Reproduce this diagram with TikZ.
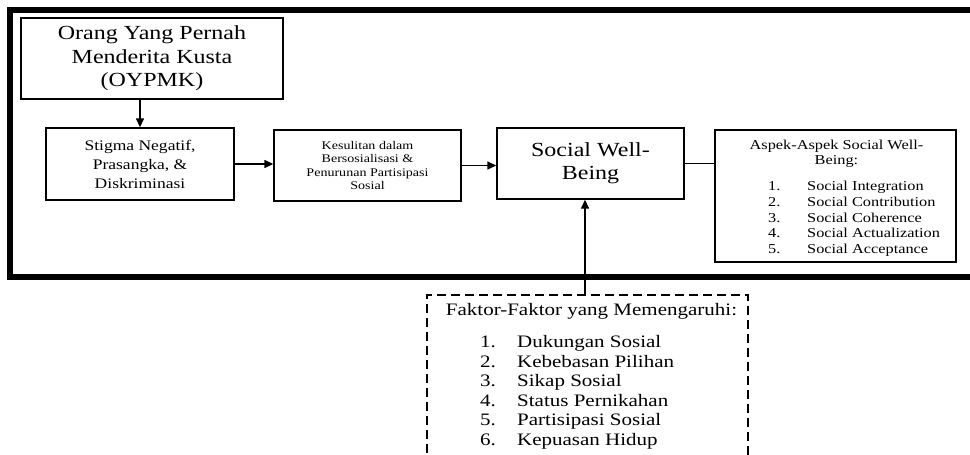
\documentclass[tikz,border=0pt]{standalone}
\usepackage{fontspec}
\setmainfont{Liberation Serif}[FakeStretch=1.2]
\usetikzlibrary{arrows.meta,positioning}

\begin{document}
\begin{tikzpicture}[x=1pt,y=-1pt]
        \tikzstyle{every node}+=[inner sep=0pt]
        \tikzstyle{box}=[draw=black, line width=1.4pt, align=center]
        \tikzstyle{link}=[draw=black, line width=1.4pt, -{Triangle[length=9pt,width=8pt]}]
        \tikzstyle{plain}=[draw=black, line width=1.4pt]
        \useasboundingbox (0,0) rectangle (970,455);
        \fill [white] (0,0) rectangle (970,455);
        % thick outer frame, runs off the right edge
        \draw [black, line width=5.5pt] (10,10) rectangle (995,277);
        \node [box, minimum width=262pt, minimum height=81pt, font=\fontsize{20}{23.5}\selectfont] (oypmk) at (152,58.5) {Orang Yang Pernah\\Menderita Kusta\\(OYPMK)};
        \node [box, minimum width=188pt, minimum height=72pt, font=\fontsize{14.6}{19}\selectfont] (stig) at (140,164) {Stigma Negatif,\\Prasangka, \&\\Diskriminasi};
        \node [box, minimum width=187pt, minimum height=71pt, font=\fontsize{11.7}{13.3}\selectfont] (kes) at (367.5,165.5) {Kesulitan dalam\\Bersosialisasi \&\\Penurunan Partisipasi\\Sosial};
        \node [box, minimum width=187pt, minimum height=71pt, font=\fontsize{20}{23}\selectfont] (swb) at (590.5,163.5) {Social Well-\\Being};
        \node [box, minimum width=241pt, minimum height=132pt] (asp) at (835.5,196) {};
        \node [align=center, font=\fontsize{13.6}{15.3}\selectfont] (asphead) at (836.5,154) {Aspek-Aspek Social Well-\\Being:};
        \node [anchor=west, font=\fontsize{13.6}{15.8}\selectfont] (aspitems) at (768,219) {\begin{tabular}{@{}p{39pt}@{}l@{}}
            1.&Social Integration\\
            2.&Social Contribution\\
            3.&Social Coherence\\
            4.&Social Actualization\\
            5.&Social Acceptance
        \end{tabular}};
        % factors box, cut off at the bottom
        \node [draw=black, line width=1.2pt, dash pattern=on 9pt off 5pt, minimum width=321pt, minimum height=175pt] (fak) at (587.5,382.5) {};
        \node [font=\fontsize{17.5}{19.6}\selectfont] (fakhead) at (591.5,311) {Faktor-Faktor yang Memengaruhi:};
        \node [anchor=west, font=\fontsize{17.5}{19.6}\selectfont] (fakitems) at (480,392.5) {\begin{tabular}{@{}p{37pt}@{}l@{}}
            1.&Dukungan Sosial\\
            2.&Kebebasan Pilihan\\
            3.&Sikap Sosial\\
            4.&Status Pernikahan\\
            5.&Partisipasi Sosial\\
            6.&Kepuasan Hidup
        \end{tabular}};
        \draw [link] (oypmk.south -| stig.north) -- (stig.north);
        \draw [link] (stig.east) -- (stig.east -| kes.west);
        \draw [link] (kes.east) -- (kes.east -| swb.west);
        \draw [plain] (swb.east) -- (swb.east -| asp.west);
        \draw [link] ([xshift=-2.5pt]fak.north) -- ([xshift=-2.5pt]fak.north |- swb.south);
\end{tikzpicture}
\end{document}
